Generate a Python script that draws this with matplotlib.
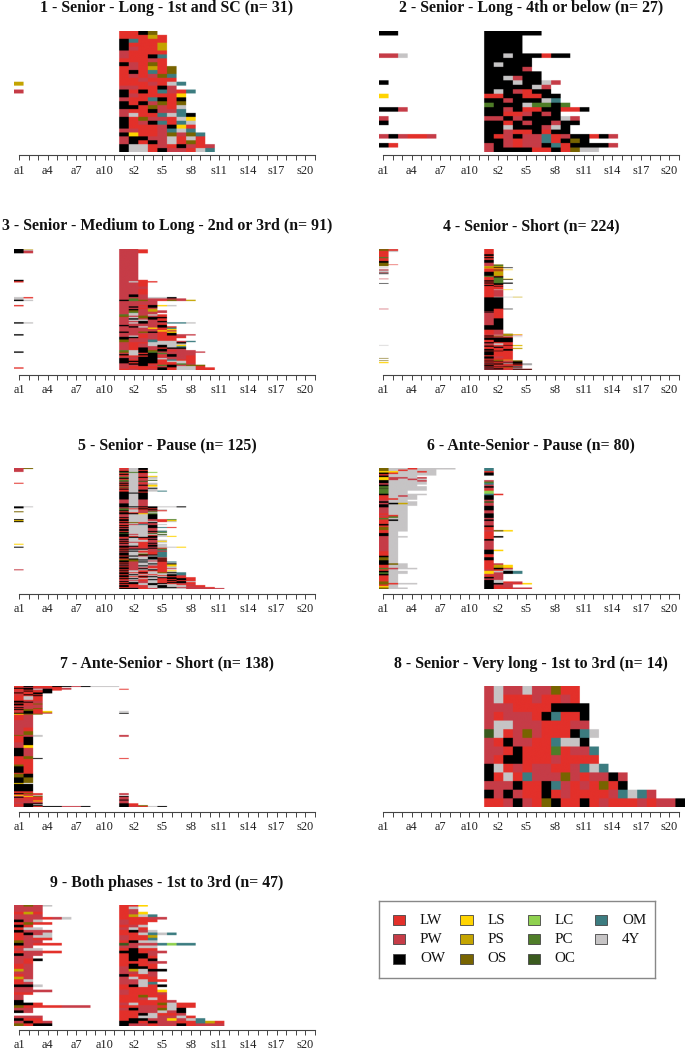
import numpy as np
import matplotlib
matplotlib.use("Agg")
import matplotlib.pyplot as plt
from matplotlib.colors import to_rgb
from matplotlib.patches import Rectangle

plt.rcParams['font.family'] = ['Liberation Serif', 'DejaVu Serif']

state_keys = ['L', 'P', 'O', 'l', 'p', 'o', 'c', 'g', 'd', 'm', 'y']
state_labels = ['LW', 'PW', 'OW', 'LS', 'PS', 'OS', 'LC', 'PC', 'OC', 'OM', '4Y']
state_colors = ['#E3302A', '#C63C47', '#000000', '#FFD400', '#C4A400', '#786400',
                '#8FD14F', '#4F7D28', '#3A5A1E', '#3C7C80', '#C6C4C5']

tick_labels = {0: 'a1', 3: 'a4', 6: 'a7', 9: 'a10', 12: 's2', 15: 's5', 18: 's8',
               21: 's11', 24: 's14', 27: 's17', 30: 's20'}

titles = ['1 - Senior - Long - 1st and SC (n= 31)',
          '2 - Senior - Long - 4th or below (n= 27)',
          '3 - Senior - Medium to Long - 2nd or 3rd (n= 91)',
          '4 - Senior - Short (n= 224)',
          '5 - Senior - Pause (n= 125)',
          '6 - Ante-Senior - Pause (n= 80)',
          '7 - Ante-Senior - Short (n= 138)',
          '8 - Senior - Very long - 1st to 3rd (n= 14)',
          '9 - Both phases - 1st to 3rd (n= 47)']

# Each row: "<a1..a11>|<s1..s21>", optional "k*" prefix repeats a row.
panel1 = ["|LLOo", "|LLLpL", "|OmLLL", "|OLLLp", "|OPLLp", "|PLLLL", "|PLLOm", "|LLLPL",
          "|OPLoL", "|LPLpLo", "|LOLmLo", "|LPLPom", "|LLPLLL", "p|LLLPLym", "|PPLLOP",
          "P|OLOLmPLm", "|OPLLLLl", "|PLLmOLO", "|OLOPoLo", "|OOLoPLy", "|PLLOPPm",
          "|PyLLmymO", "|OLoPPLyl", "|OLPOmLmy", "|OLLLPOlL", "|PPLLPmym", "|OlLLPoPom",
          "|POOPPyLyL", "|POLOPyLoL", "|OyyLPLOPLP", "|OyyLOPPLym"]

panel2 = ["OO|OOOOOO", "|OOOO", "|OOOO", "|OOOO", "|OOOO", "PPy|OOyOOOLOO", "|OOOOO", "|OyOOO",
          "|OOOOP", "|OOOOOO", "|OOyPOO", "O|OOOyOOyP", "|OOOOOyP", "|OyOPLOO",
          "l|LLOOLLOO", "|OOPOOOym", "|gOOOyggOg", "OOP|OOPOLLOOLLO", "|OOLLPOPO",
          "P|PPOPOOOOyP", "O|OOLOPOOPOO", "|OOyOOOPyO", "|OOPLLOLOO", "POPLLP|OLPOPPmLPOOLOP",
          "|OOPLPPmLOoO", "OL|POPLPPOmLOOOOP", "|POOOOLLOLoyy"]

panel3 = ["Ol|PL", "Oy|PPL", "OP|PPL", "OP|PPL", "20*|PP", "O|PPL", "L|PyLL", "3*|PPL", "2*|PPP",
          "4*|PPL", "|POP", "|POP", "yL|PPPyyO", "y|PgPPPPP", "Oy|OgoPLoPp", "3*|PPPP",
          "L|PPLOly", "|POPO", "|PPLP", "|POPp", "|PoPpP", "|PgPPP", "|PyPP", "|gyPyL", "|oPoPL",
          "|PyoOO", "|POPOL", "|PyyPL", "|PPOPO", "Oy|PyOPPmmy", "|PPPPL", "|OPPPO", "|POyPOL",
          "|PPPlLm", "|PPPPLl", "|PPPPlP", "|OPoOLl", "|PPPPLO", "O|PPLPLOPP", "|PyLPLLP",
          "|OOLPLLL", "|OPPPLL", "|oPPmLL", "|oPPmyyPm", "|PLLyyyO", "|PLPyyyy", "|PLPyOyl",
          "|PLPPOym", "|PLOPLOO", "|PLOPOPP", "|gyOoOLPP", "O|oyOgPPPPP", "|PyLOgPPP", "|OyOOPOPP",
          "|LLLOLOPL", "|PPOOPPPL", "|OPOOyPPL", "|OLOOLmLL", "|OOOOLyyL", "|OLOOLLyL", "|POOLLLgP",
          "|PPOPgOPoo", "|PLLLPOyyL", "L|PLLLOLyyLL", "|LPLPOLyyLL"]

panel4 = ["2*Py|L", "3*oL|L", "2*Ly|L", "4*L|L", "3*L|O", "2*L|L", "2*g|O", "3*L|L", "2*L|O",
          "3*O|O", "3*o|P", "oL|Po", "2*o|Pg", "|lp", "|op", "y|pOO", "|lLy", "|Ll", "P|Lo", "y|LLl",
          "P|Lo", "y|LL", "y|Lp", "y|Op", "P|Op", "O|Op", "y|Op", "y|Op", "|Op", "|Op", "|gL",
          "|gO", "|LO", "2*|Lg", "P|Lgl", "|LgO", "|Lg", "2*|Og", "|Lg", "|Og", "|LgO", "O|OOO",
          "2*|LO", "2*|OL", "|LO", "2*|LL", "3*|LL", "|Lyl", "12*|LP", "|Lyyp", "20*|OO", "P|OLO",
          "4*|OL", "|PL", "|OL", "10*|PL", "12*|PO", "8*|OO", "7*|LP", "|LPo", "|PPpl",
          "|LypP", "|OLo", "|Loy", "|OPLy", "|LPL", "4*|OOO", "4*|LOO", "2*|OLL", "3*|PyL", "y|LLOp",
          "|OLLl", "|OPL", "2*|LOL", "2*|LLLp", "3*|OLO", "|LOL", "7*|OLL", "2*|LLL", "3*|OPL", "o|OLL",
          "2*|LLL", "|Ool", "o|LoPo", "|OLPo", "|LOPO", "l|LLPO", "l|OLOO", "|POyO", "|OLLLO",
          "|LOLO", "|OLPLy", "|OPLL", "|LLOO", "|OOLy", "|PLoP", "|OLLO", "|POLyy", "|OOPLL", "|PPLOO"]

panel5 = ["Po|LyO", "P|PyO", "P|LyL", "P|OyO", "|dgOc", "|LyL", "|OyP", "|LyP", "|PyLl", "|gyOy",
          "|OyLy", "|LyP", "|gyPd", "|dyd", "|PyP", "L|OyLy", "|LyPy", "|OyOl", "|LyLl", "|dyP",
          "|LyLO", "|OyPy", "|LyOy", "|LyOym", "|OyL", "|OOO", "6*|OyO", "4*|PyP", "3*|OyP",
          "Oy|OOOOyyO", "O|PyLO", "|dLOL", "|gyLOy", "|OyPPL", "o|LyPg", "|OLPy", "|OOlg", "|PyyO",
          "|PyyO", "|PyyO", "|OyyO", "|LyyO", "O|OyyPLg", "l|OyyPLl", "O|LyyyLy", "|OoLO", "|PyPP",
          "|LPmPy", "|OyyO", "|LyyO", "|OyyOmL", "|PyyP", "|OyyP", "|OyyPy", "|LyyOm",
          "|OyyPg", "|dyyd", "|OPyyd", "|OyyLy", "|OLyOyl", "|LOOO", "|PyLP", "|OyLO", "|PyyPy", "|OyyPl",
          "|LPLPy", "|OyLO", "l|PyLPy", "|PyLOy", "|OOLOy", "O|OPLPyyl", "|LPPOL", "|OOOPg", "|LyyPm",
          "|OOLPL", "|PyLLm", "|OyyLm", "|OyoLm", "|OyOOm", "|LOPym", "|OyyOm", "|OyyOL", "|LOyOO",
          "|ooOyL", "|OoyPO", "|OPOyLm", "|LPyyLy", "|OPyOLO", "|PPyyLl", "|OPOPLl", "|LPyLLy", "|OPPLLy",
          "|OPOyLP", "P|LPyOL", "|OyLLLl", "|LyLyLy", "|OLOyoOm", "|OyLyyym", "|LOyLyOm", "|OyLyLOP",
          "|OLOOyLL", "|LyLyOOLL", "|OOyyLOOL", "|LyLOLLOL", "|PPLyLOLL", "|OyPyLLOy", "|LOPyLOOL",
          "|OOyOOLPL", "|LLyOyyLP", "|OLLyOyyLL", "|OLPyOyyPL", "|LPLyOOPPPL", "|OOLPyyyPPPP"]

panel6 = ["oyyLyyyy|m", "oyLyyy|m", "llyyLy|L", "OLyyyy|O", "Lyyyyy|O", "Oyyy|", "lPPyP|", "lPyPy|",
          "OyyyP|P", "Oyyyy|g", "Pyyyy|m", "Oyyy|P", "gyyyy|O", "dyyyy|P", "gyyyy|L", "gyy|c", "gyy|c",
          "Oyyyy|mL", "LyPy|O", "Lyyy|O", "LLyy|O", "Pyy|P", "Oyyy|d", "POpy|P", "Oyyy|P", "Oyy|O",
          "Pyy|O", "Pyy|O", "Pyy|P", "Pyy|P", "Lyy|O", "PLy|O", "Lgy|O", "gyy|P", "LOy|O", "Lyy|P",
          "Lyy|P", "Oyy|P", "Lyy|O", "oyy|L", "oyy|L", "Lyy|Pol", "Ly|L", "Oy|L", "Oy|L",
          "Pyy|LO", "Py|L", "Py|O", "5*Py|P", "Py|P", "Py|Ol", "Ly|O", "Ly|O", "Ly|L", "Oy|L", "oy|O",
          "oy|O", "Oy|L", "Oy|L", "Ooy|LP", "Lyy|Lpl", "Lyy|Lpl", "gPyy|LOP", "Ly|PLy", "Oyy|lyOm",
          "gyy|lPOm", "Oy|PP", "Ly|LP", "Ly|OP", "Ly|PP", "Ly|Oy", "oy|OyLP", "oLyy|OOPLl", "Ly|OPP",
          "ly|OLP", "oyy|OLLPP"]

panel7 = ["LOLLOOPOyyy|", "LPLLL|", "OOPPLP|", "LOyOLP|L", "LLPOL|", "POLO|", "LLLO|", "OLOO|", "LLO|",
          "POL|", "LLO|", "LyL|", "3*LyL|", "LLL|", "OPP|", "OOP|", "LLP|", "OPo|", "OLP|", "LPP|", "PPP|",
          "OPP|", "LPo|", "OoL|", "LoL|", "POLl|y", "LOLp|", "OOLP|O", "loo|", "6*LP|", "8*PP|",
          "4*PL|", "4*Po|", "oPy|P", "LPy|P", "6*LO|", "3*PO|", "3*Pl|", "9*OP|", "2*Lo|", "LoO|L", "6*LL|",
          "2*oL|", "7*OL|", "LL|", "4*oO|", "6*Oo|", "l|", "8*OO|", "2*LL|", "OoL|P", "LLL|P", "lPy|", "Plo|O",
          "OLL|P", "PLL|P", "LPL|P", "PLL|O", "LPl|P", "2*PPP|P", "POO|OL", "LOy|OL", "LOO|OLo", "POLOOPPO|OPLyO"]

panel8 = ["|PyPPyPPoLL", "|PyLLLPLLPL", "|PPPLLLLOOOO", "|PLPPPLOmLLO", "|PyyPPPLLLPP", "|dyLPoPLLLOmy",
          "|PLOPPLLmyyO", "|PPLOLLLgLPPm", "|PLOOLLLPLLLL", "|OyLPLPPLLPmym", "|OLyLmPPPoPLPPOP",
          "|PPPOLLOmPLPLoLO", "|OPOPLLOLPLLLLPmymP", "|LLPOPLoOLLOLPLLLPLPPO"]

panel9 = ["PoPy|LLl", "PPP|Ly", "PPP|LP", "LpL|LPl", "PPP|Lpym", "PPPLPy|LLLPP", "OPy|PLLL", "LoLL|PLL",
          "OL|LPy", "Lyy|PyL", "OPPP|LOPy", "LOPy|LLymym", "LPyy|PLLp", "LPLL|PLLm", "oPP|LOyy", "OPLLL|dPPPmcmm",
          "LP|PPyy", "Pyy|LOLL", "LPPLL|OOLPP", "OPP|LOOP", "PP|LOOL", "PLO|LOLO", "PL|LLLPP", "LP|LOLL", "LP|POOL",
          "pP|PpyOO", "PP|PPyP", "LP|OLLP", "pP|PyLL", "Ly|PPyLL", "LP|PPym", "OOy|LOyLO", "PP|LLLL", "PPPP|PLLLl",
          "LL|PLLLP", "P|LLoLL", "P|LLPyL", "O|LLLLLP", "OOL|PyLLoyLL", "oLLLLPPP|LLPPLyLL", "PP|POPPoyO", "OP|LLPPyPO",
          "|LLOyLLP", "PPP|LLyyPPyL", "OLL|LOOPPlPym", "POLP|OOLOPPLLmpL", "oLOO|OPPLPPOLPPP"]

panels = [panel1, panel2, panel3, panel4, panel5, panel6, panel7, panel8, panel9]

FW, FH = 685, 1049
COLS = 32
left_px = [14.3, 378.5]
top_px = [30.7, 249.0, 467.7, 686.3, 905.0]
bot_px = [151.7, 370.3, 588.7, 807.3, 1026.3]
axis_px = [155.3, 374.7, 593.7, 812.0, 1030.3]
title_px = [8.0, 226.0, 445.0, 663.7, 882.7]
tick_pad = [3.0, 3.0, 3.0, 3.0, 2.2]
panel_w = 305.2


def expand(rows):
    out = []
    for r in rows:
        k = 1
        if '*' in r:
            k, r = r.split('*')
            k = int(k)
        a, s = r.split('|')
        out.extend([(a.ljust(11, '.') + s).ljust(COLS, '.')[:COLS]] * k)
    return out


lookup = {k: to_rgb(c) for k, c in zip(state_keys, state_colors)}
lookup['.'] = (1.0, 1.0, 1.0)

fig = plt.figure(figsize=(FW / 100, FH / 100), dpi=100, facecolor='white')

for i, (rows, title) in enumerate(zip(panels, titles)):
    col, row = i % 2, i // 2
    rows = expand(rows)
    n = len(rows)
    img = np.array([[lookup[ch] for ch in r] for r in rows])
    # oversample so the image is reduced on both axes, giving the soft edges of the reference
    ky = int(np.ceil(480 / n))
    img = np.repeat(np.repeat(img, ky, axis=0), 24, axis=1)
    top, bot, ax_y = top_px[row], bot_px[row], axis_px[row]
    ax = fig.add_axes([left_px[col] / FW, 1 - ax_y / FH, panel_w / FW, (ax_y - top) / FH])
    ax.imshow(img, extent=(-0.5, COLS - 0.5, n, 0), aspect='auto', interpolation='hanning',
              interpolation_stage='rgba', zorder=1)
    ax.set_xlim(-0.5, COLS - 0.5)
    ax.set_ylim(n * (ax_y - top) / (bot - top), 0)
    ax.patch.set_alpha(0)
    for side in ('top', 'left', 'right'):
        ax.spines[side].set_visible(False)
    ax.spines['bottom'].set_bounds(0, COLS - 1)
    ax.spines['bottom'].set_color('#444444')
    ax.spines['bottom'].set_linewidth(0.8)
    ax.set_yticks([])
    ax.set_xticks(range(COLS))
    ax.set_xticklabels([tick_labels.get(t, '') for t in range(COLS)], fontsize=8.9, color='#222222')
    ax.tick_params(axis='x', length=3.8, width=0.7, color='#444444', pad=tick_pad[row])
    fig.text((left_px[col] + panel_w / 2) / FW, 1 - title_px[row] / FH, title, ha='center', va='center',
             fontsize=11.4, fontweight='bold', color='#111111')

# legend box, laid out in the pixel grid of the figure
lax = fig.add_axes([379 / FW, 1 - 977.7 / FH, 276 / FW, 77 / FH])
lax.set_xlim(379, 655)
lax.set_ylim(977.7, 900.7)
lax.set_xticks([])
lax.set_yticks([])
for sp in lax.spines.values():
    sp.set_color('#888888')
    sp.set_linewidth(1.0)
for k, (lab, c) in enumerate(zip(state_labels, state_colors)):
    cx, cy = k // 3, k % 3
    x0 = 393 + 67.3 * cx
    y0 = 920 + 19.4 * cy
    lax.add_patch(Rectangle((x0, y0 - 5), 12.5, 10, facecolor=c, edgecolor='#444444', linewidth=0.6))
    lax.text(x0 + 27, y0, lab, fontsize=10.8, va='center', ha='left', color='#111111')

fig.savefig('out.png', dpi=100, facecolor='white')
